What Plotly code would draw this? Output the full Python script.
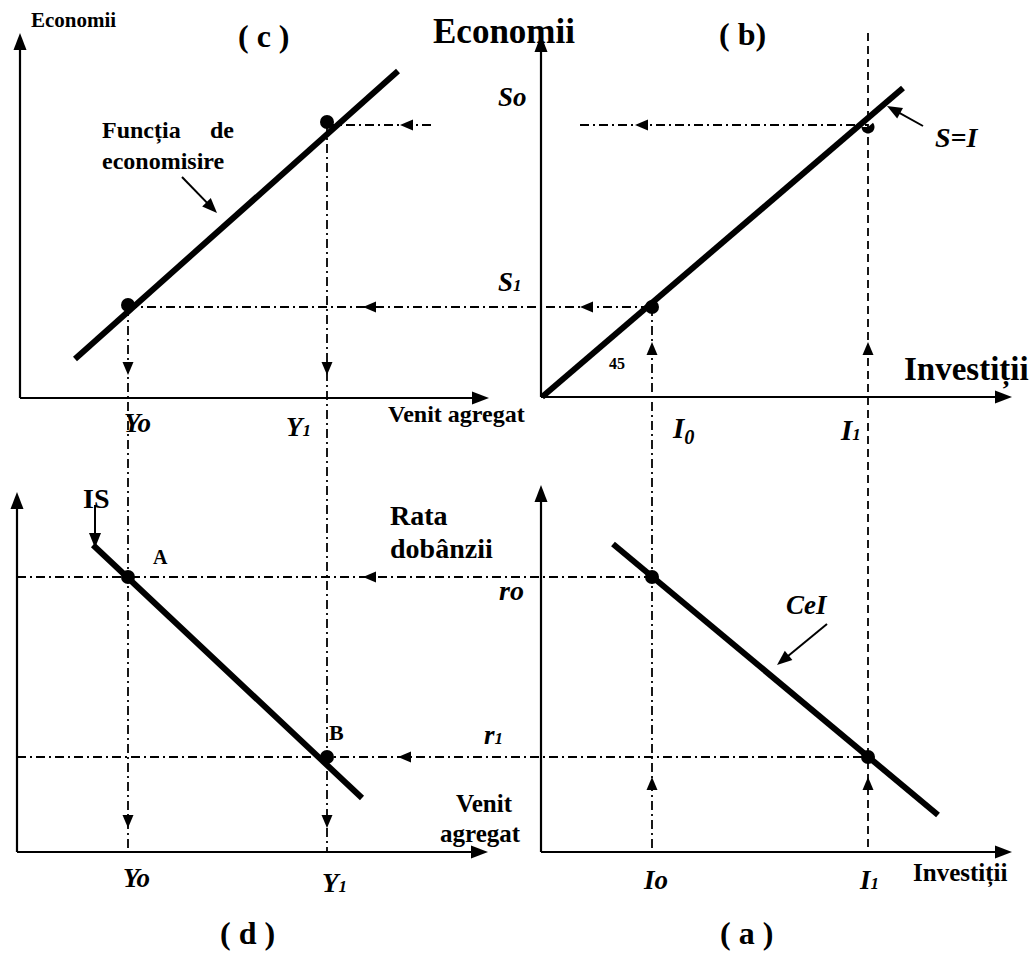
import math
import plotly.graph_objects as go

W, H = 1034, 955

# ---------------------------------------------------------------
# Levels shared between the four quadrants (canvas units, y down)
# ---------------------------------------------------------------
S0, S1 = 125, 307          # savings levels, panels (b) and (c)
R0, R1 = 577, 757          # interest-rate levels, panels (a) and (d)
Y0, Y1 = 128, 327          # income levels, panels (c) and (d)
I0, I1 = 652, 868          # investment levels, panels (a) and (b)

# Axes: origin and the ends of the two arrows, per panel
axis_names = ["c", "b", "d", "a"]
axis_origin_x = [20, 541, 17, 541]
axis_origin_y = [398, 397, 852, 852]
axis_x_end = [489, 1012, 488, 1012]
axis_y_end = [33, 35, 492, 485]

# Curves
savings_x, savings_y = [75, 398], [359, 71]      # funcția de economisire
equality_x, equality_y = [542, 903], [397, 88]   # S = I (45°)
cei_x, cei_y = [613, 938], [544, 815]            # cererea de investiții
is_x, is_y = [93, 362], [545, 798]               # curba IS

# Equilibrium points
dots_x = [Y0, Y1, I0, I0, I1, Y0, Y1]
dots_y = [S1 - 2, S0 - 3, S1, R0, R1, R0, R1]
half_dot = (I1, S0 + 2)

# Guide lines: (x0, y0, x1, y1, dash)
DASHDOT = "9px,4px,2px,4px"
DASHED = "8px,5px"
guides = [
    (Y1, S0, 435, S0, DASHDOT),
    (580, S0, I1, S0, DASHDOT),
    (Y0, S1, I0, S1, DASHDOT),
    (17, R0, I0, R0, DASHDOT),
    (17, R1, I1, R1, DASHDOT),
    (Y0, S1, Y0, 852, DASHDOT),
    (Y1, S0, Y1, 852, DASHDOT),
    (I0, S1, I0, 852, DASHDOT),
    (I1, 33, I1, 852, DASHED),
]

# Arrowheads on guide lines: tip position and pointing direction
guide_heads = [
    (400, S0, "left"), (635, S0, "left"),
    (363, S1, "left"), (580, S1, "left"),
    (363, R0, "left"), (398, R1, "left"),
    (Y0, 375, "down"), (Y1, 375, "down"),
    (Y0, 828, "down"), (Y1, 828, "down"),
    (I0, 342, "up"), (I1, 342, "up"),
    (I0, 777, "up"), (I1, 777, "up"),
]

# Pointer arrows for curve names: (from_x, from_y, tip_x, tip_y)
pointers = [
    (182, 177, 217, 213),   # Funcția de economisire
    (923, 126, 887, 106),   # S=I
    (827, 624, 777, 665),   # CeI
    (95, 505, 95, 548),     # IS
]

BLACK = "#000000"
FONT = "Liberation Serif, Times New Roman, serif"

fig = go.Figure()
shapes = []


def head(tip, frm, length, width):
    tx, ty = tip
    fx, fy = frm
    dx, dy = tx - fx, ty - fy
    n = math.hypot(dx, dy)
    ux, uy = dx / n, dy / n
    bx, by = tx - ux * length, ty - uy * length
    px, py = -uy * width / 2, ux * width / 2
    return (f"M{tx:.1f},{ty:.1f} L{bx + px:.1f},{by + py:.1f} "
            f"L{bx - px:.1f},{by - py:.1f} Z")


def add_head(tip, frm, length, width):
    shapes.append(dict(type="path", path=head(tip, frm, length, width),
                       fillcolor=BLACK, line=dict(width=0), layer="above"))


# guide lines
for x0, y0, x1, y1, dash in guides:
    shapes.append(dict(type="line", x0=x0, y0=y0, x1=x1, y1=y1,
                       line=dict(color=BLACK, width=1.8, dash=dash),
                       layer="below"))

step = {"left": (1, 0), "right": (-1, 0), "up": (0, 1), "down": (0, -1)}
for x, y, d in guide_heads:
    sx, sy = step[d]
    add_head((x, y), (x + sx, y + sy), 13, 11)

# axes with arrow tips
for ox, oy, xe, ye in zip(axis_origin_x, axis_origin_y, axis_x_end, axis_y_end):
    shapes.append(dict(type="line", x0=ox, y0=oy, x1=xe - 10, y1=oy,
                       line=dict(color=BLACK, width=2.2), layer="below"))
    shapes.append(dict(type="line", x0=ox, y0=oy, x1=ox, y1=ye + 10,
                       line=dict(color=BLACK, width=2.2), layer="below"))
    add_head((xe, oy), (ox, oy), 17, 13)
    add_head((ox, ye), (ox, oy), 17, 13)

# pointer arrows
for fx, fy, tx, ty in pointers:
    dx, dy = tx - fx, ty - fy
    n = math.hypot(dx, dy)
    shapes.append(dict(type="line", x0=fx, y0=fy,
                       x1=tx - dx / n * 10, y1=ty - dy / n * 10,
                       line=dict(color=BLACK, width=2), layer="above"))
    add_head((tx, ty), (fx, fy), 15, 12)

# half dot at the top of the S=I line
hx, hy = half_dot
r = 6.5
arc = " ".join(
    f"L{hx + r * math.cos(math.radians(a)):.1f},{hy + r * math.sin(math.radians(a)):.1f}"
    for a in range(-40, 181, 10)
)
shapes.append(dict(type="path", path=f"M{hx},{hy} {arc} Z",
                   fillcolor=BLACK, line=dict(width=0), layer="above"))

# curves
for xs, ys in [(savings_x, savings_y), (equality_x, equality_y),
               (cei_x, cei_y), (is_x, is_y)]:
    fig.add_trace(go.Scatter(x=xs, y=ys, mode="lines",
                             line=dict(color=BLACK, width=6),
                             hoverinfo="skip", showlegend=False))

fig.add_trace(go.Scatter(x=dots_x, y=dots_y, mode="markers",
                         marker=dict(color=BLACK, size=14),
                         hoverinfo="skip", showlegend=False))

# text labels: (x, y, text, size, anchor)
sm = '<span style="font-size:17px">1</span>'
labels = [
    (73, 20, "<b>Economii</b>", 21, "center"),
    (264, 36, "<b>( c )</b>", 32, "center"),
    (504, 31, "<b>Economii</b>", 35, "center"),
    (742, 34, "<b>( b)</b>", 32, "center"),
    (100, 130, "<b>Funcția</b>", 24, "left"),
    (236, 130, "<b>de</b>", 24, "right"),
    (100, 161, "<b>economisire</b>", 24, "left"),
    (512, 97, "<b><i>So</i></b>", 27, "center"),
    (510, 282, f"<b><i>S{sm}</i></b>", 27, "center"),
    (957, 137, "<b><i>S=I</i></b>", 28, "center"),
    (617, 363, "<b>45</b>", 16, "center"),
    (1031, 370, "<b>Investiții</b>", 33, "right"),
    (137, 423, "<b><i>Yo</i></b>", 27, "center"),
    (298, 427, f"<b><i>Y{sm}</i></b>", 27, "center"),
    (456, 414, "<b>Venit agregat</b>", 24, "center"),
    (683, 430, "<b><i>I<sub>0</sub></i></b>", 29, "center"),
    (850, 430, f"<b><i>I{sm}</i></b>", 29, "center"),
    (96, 498, "<b>IS</b>", 28, "center"),
    (160, 557, "<b>A</b>", 20, "center"),
    (336, 732, "<b>B</b>", 22, "center"),
    (388, 515, "<b>Rata</b>", 28, "left"),
    (388, 548, "<b>dobânzii</b>", 28, "left"),
    (511, 590, "<b><i>ro</i></b>", 28, "center"),
    (493, 735, f"<b><i>r{sm}</i></b>", 27, "center"),
    (484, 803, "<b>Venit</b>", 25, "center"),
    (480, 833, "<b>agregat</b>", 25, "center"),
    (807, 605, "<b><i>CeI</i></b>", 27, "center"),
    (136, 878, "<b><i>Yo</i></b>", 27, "center"),
    (334, 883, f"<b><i>Y{sm}</i></b>", 27, "center"),
    (655, 880, "<b><i>Io</i></b>", 27, "center"),
    (869, 880, f"<b><i>I{sm}</i></b>", 27, "center"),
    (960, 873, "<b>Investiții</b>", 25, "center"),
    (247, 933, "<b>( d )</b>", 32, "center"),
    (746, 933, "<b>( a )</b>", 32, "center"),
]
annotations = [
    dict(x=x, y=y, text=t, xanchor=a, yanchor="middle", showarrow=False,
         font=dict(family=FONT, size=s, color=BLACK))
    for x, y, t, s, a in labels
]

fig.update_layout(
    width=W, height=H, autosize=False,
    margin=dict(l=0, r=0, t=0, b=0),
    paper_bgcolor="white", plot_bgcolor="white",
    shapes=shapes, annotations=annotations,
    xaxis=dict(range=[0, W], visible=False, fixedrange=True),
    yaxis=dict(range=[H, 0], visible=False, fixedrange=True),
)

fig.write_html("out.html")
